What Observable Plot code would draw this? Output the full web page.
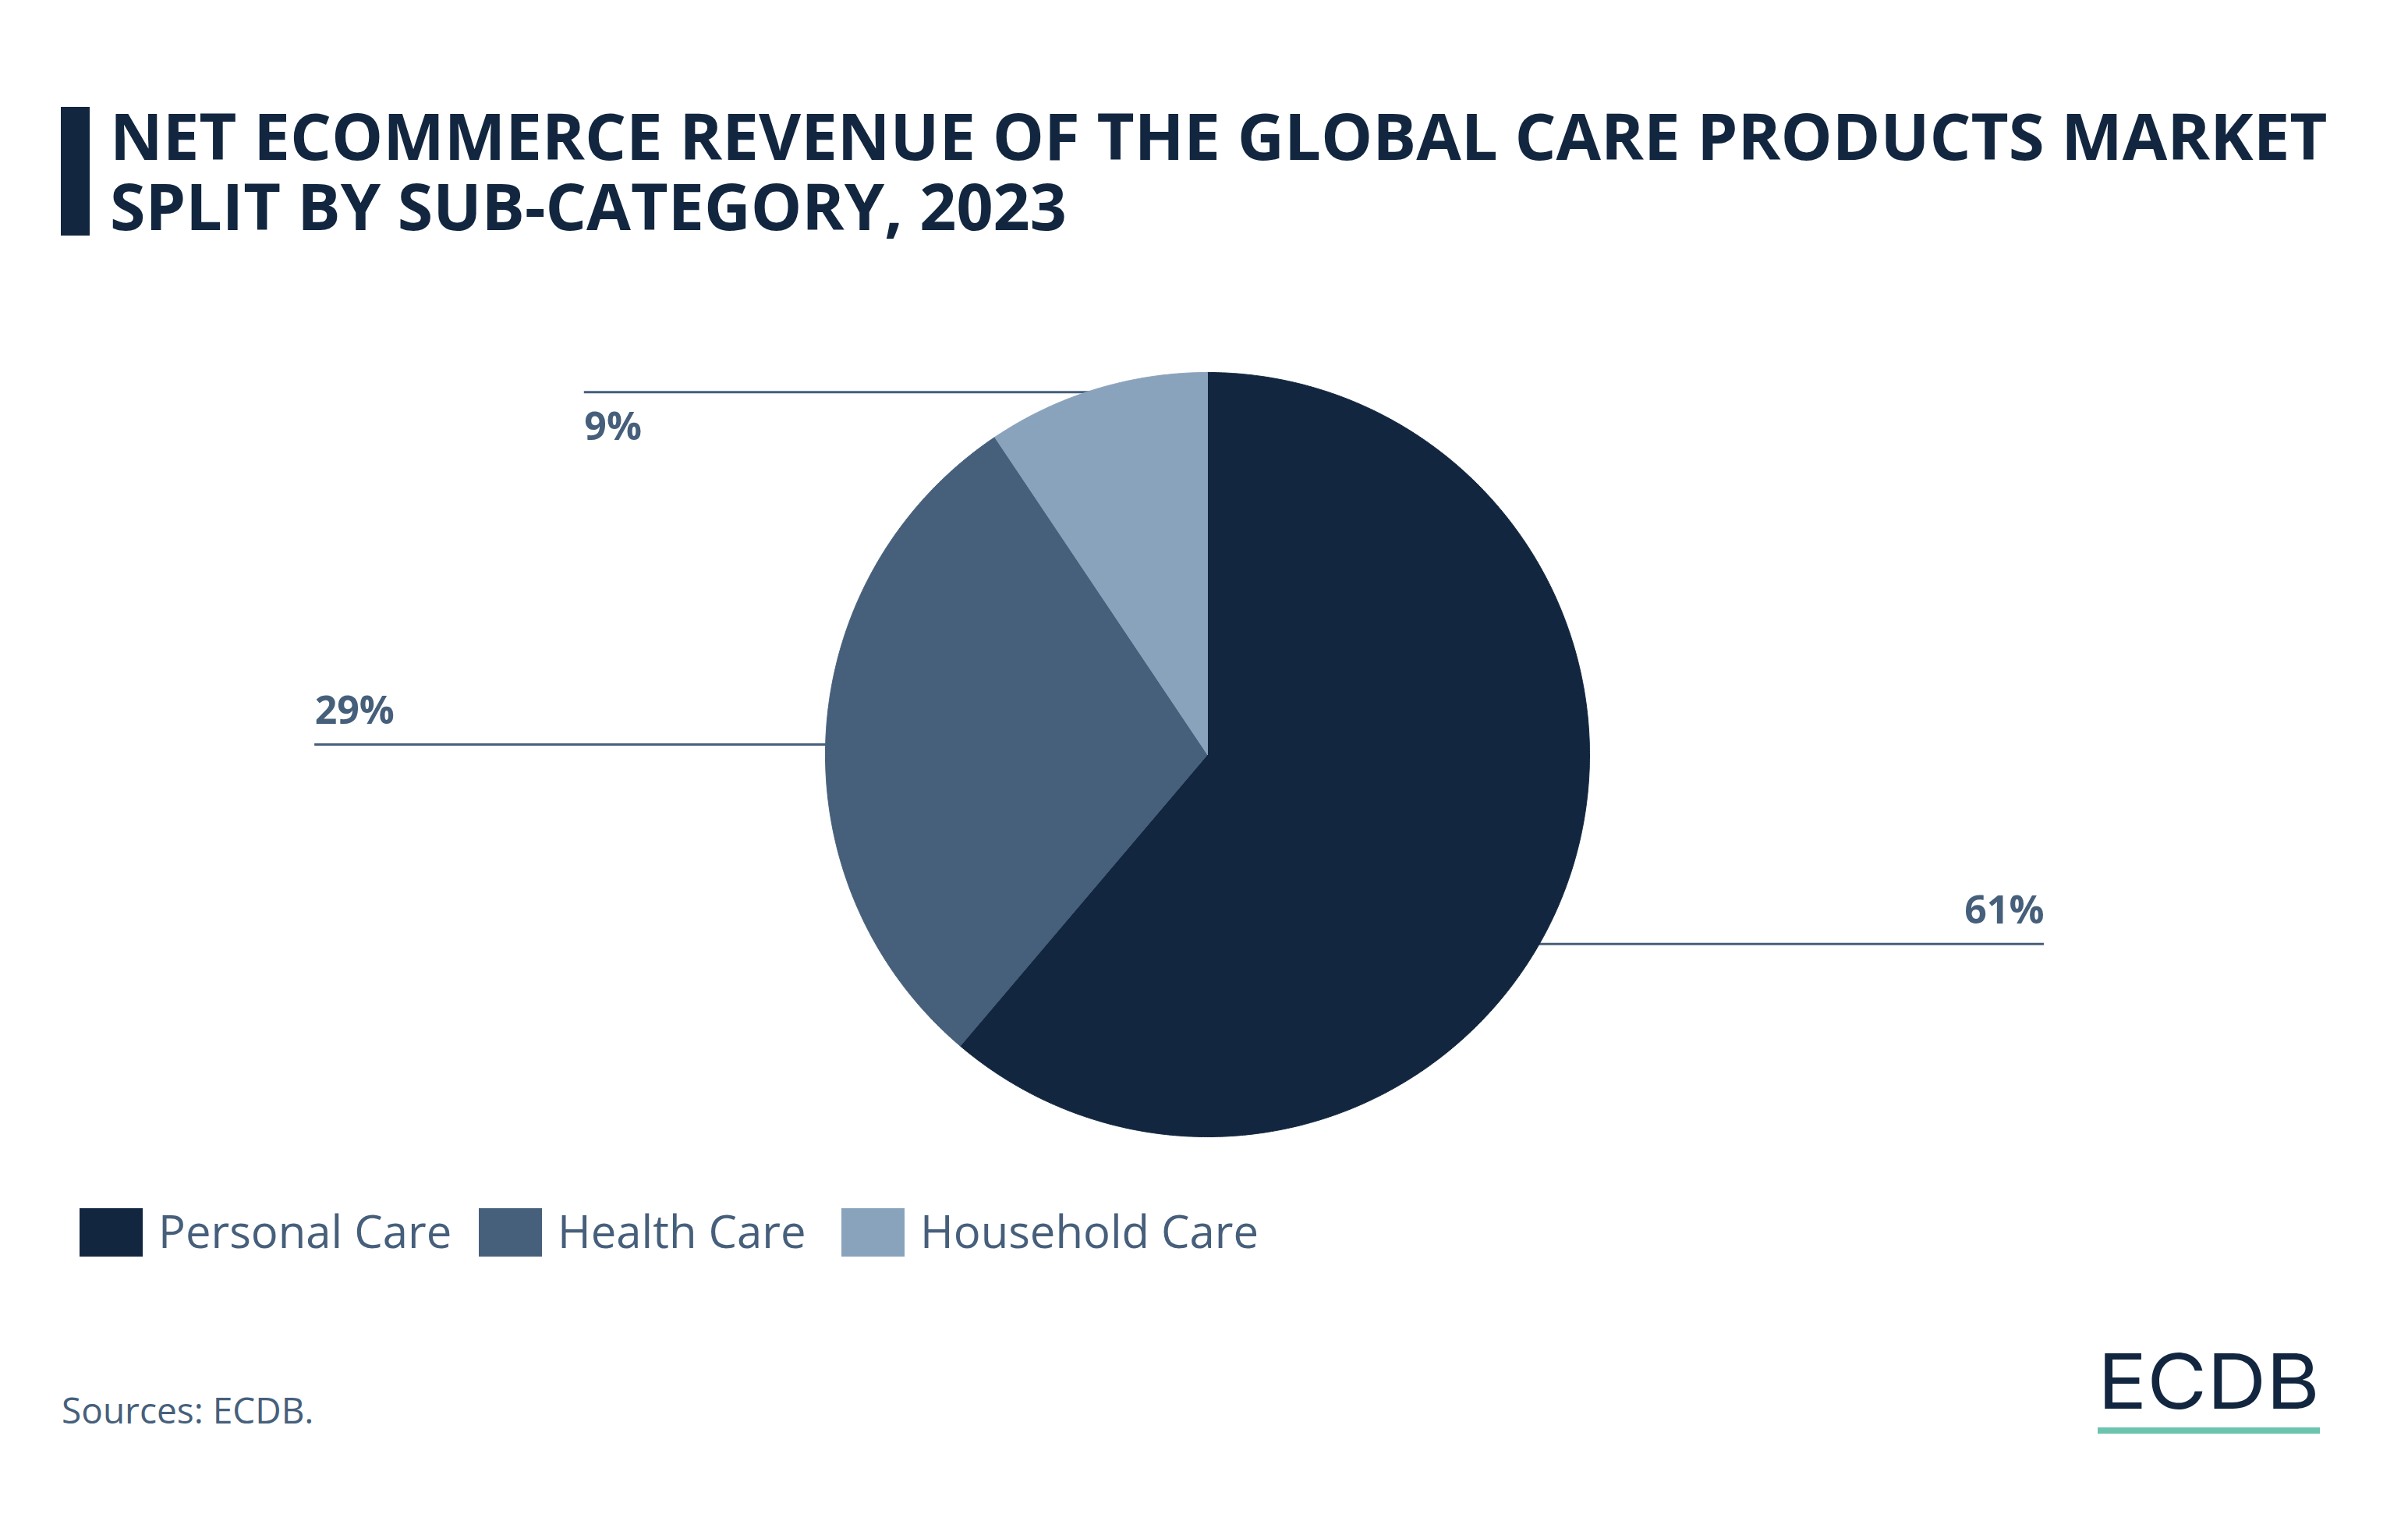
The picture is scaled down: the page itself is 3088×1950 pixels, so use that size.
<!DOCTYPE html>
<html>
<head>
<meta charset="utf-8">
<script src="https://cdn.jsdelivr.net/npm/d3@7"></script>
<script src="https://cdn.jsdelivr.net/npm/@observablehq/plot@0.6"></script>
<style>
  html, body { margin: 0; padding: 0; background: #ffffff; }
  #page { position: relative; width: 3088px; height: 1950px; overflow: hidden; font-family: "Open Sans", sans-serif; background: #ffffff; }
  #bar { position: absolute; left: 78px; top: 137px; width: 37px; height: 165px; background: #12263f; }
  .tline { position: absolute; left: 141px; margin: 0; font-size: 83.3px; line-height: 90px; height: 90px; font-weight: 700; color: #12263f; white-space: nowrap; }
  #chart { position: absolute; left: 0; top: 400px; }
  #legend { position: absolute; left: 0; top: 1549px; width: 3088px; height: 62px; }
  .item { position: absolute; top: 0; display: flex; align-items: center; height: 62px; }
  .swatch { width: 81px; height: 62px; margin-right: 20px; }
  .lab { position: relative; top: -2px; font-size: 58px; line-height: 58px; color: #465f7b; white-space: nowrap; }
  #source { position: absolute; left: 79px; top: 1784px; font-size: 46px; line-height: 46px; color: #465f7b; white-space: nowrap; }
  #logo { position: absolute; left: 2670px; top: 1700px; }
</style>
</head>
<body>
<div id="page">
  <div id="bar"></div>
  <div class="tline" style="top:128px">NET ECOMMERCE REVENUE OF THE GLOBAL CARE PRODUCTS MARKET</div>
  <div class="tline" style="top:218px; font-size:82.5px">SPLIT BY SUB-CATEGORY, 2023</div>
  <div id="chart"></div>
  <div id="legend"></div>
  <div id="source">Sources: ECDB.</div>
  <svg id="logo" width="320" height="160">
    <text x="20" y="106" font-family="Inter, sans-serif" font-size="98" font-weight="400" fill="#12263f" textLength="285" lengthAdjust="spacingAndGlyphs">ECDB</text>
    <rect x="20" y="130" width="285" height="8" fill="#6cc4ae"></rect>
  </svg>
</div>
<script>
// ---- data ----
const categories = ["Personal Care", "Health Care", "Household Care"];
const shares = [61.2, 29.4, 9.4];          // % of net e-commerce revenue
const shareLabels = ["61%", "29%", "9%"];  // labels as printed

// ---- styles ----
const palette = ["#12263f", "#465f7b", "#8aa3bd"];
const labelColor = "#465f7b";
// label placement: offsets (in radius units) from the slice's mid-angle rim point
const labelLayout = [
  {dx: 1.251, dy: 0.151, anchor: "end", textDy: -26},
  {dx: -1.338, dy: 0.030, anchor: "start", textDy: -27},
  {dx: -1.340, dy: 0.008, anchor: "start", textDy: 61}
];
const legendLeft = [102, 614, 1079];

// ---- geometry (page pixels) ----
const W = 3088, H = 1100;
const cx = 1548, cy = 567, r = 490;

const rows = categories.map((c, i) => ({category: c, share: shares[i], label: shareLabels[i]}));
const arcs = d3.pie().sort(null).value(d => d.share).startAngle(0).endAngle(2 * Math.PI)(rows);

// polygon points for each slice (angle 0 at 12 o'clock, clockwise)
const slicePts = [];
for (const a of arcs) {
  const c = a.data.category;
  slicePts.push({category: c, x: 0, y: 0});
  const n = Math.max(2, Math.ceil((a.endAngle - a.startAngle) / (Math.PI / 720)));
  for (let k = 0; k <= n; k++) {
    const t = a.startAngle + (a.endAngle - a.startAngle) * k / n;
    slicePts.push({category: c, x: Math.sin(t), y: -Math.cos(t)});
  }
  slicePts.push({category: c, x: 0, y: 0});
}

const labelRows = arcs.map((a, i) => {
  const mid = (a.startAngle + a.endAngle) / 2;
  const L = labelLayout[i];
  return {
    category: a.data.category,
    label: a.data.label,
    x: Math.sin(mid) + L.dx,
    y: -Math.cos(mid) + L.dy,
    anchor: L.anchor,
    textDy: L.textDy
  };
});

const marks = [];
// leader lines (drawn below the pie, running in to the centre)
marks.push(Plot.ruleY(labelRows, {y: "y", x1: "x", x2: () => 0, stroke: labelColor, strokeWidth: 3}));
// pie slices
marks.push(Plot.line(slicePts, {x: "x", y: "y", z: "category", fill: "category", stroke: "category", strokeWidth: 1, curve: "linear"}));
// labels
for (const d of labelRows) {
  marks.push(Plot.text([d], {
    x: "x", y: "y", text: "label",
    textAnchor: d.anchor, lineAnchor: "bottom", dy: d.textDy,
    fontSize: 50, fontWeight: 700, fontFamily: "Open Sans", fill: labelColor
  }));
}

const chart = Plot.plot({
  width: W, height: H,
  margin: 0,
  style: {background: "transparent", fontFamily: "Open Sans"},
  x: {domain: [-1, 1], range: [cx - r, cx + r], axis: null},
  y: {domain: [-1, 1], range: [cy - r, cy + r], axis: null},
  color: {domain: categories, range: palette},
  marks
});
document.getElementById("chart").appendChild(chart);

// legend
const legend = document.getElementById("legend");
categories.forEach((c, i) => {
  const item = document.createElement("div");
  item.className = "item";
  item.style.left = legendLeft[i] + "px";
  const sw = document.createElement("div");
  sw.className = "swatch";
  sw.style.background = palette[i];
  const lb = document.createElement("div");
  lb.className = "lab";
  lb.textContent = c;
  item.appendChild(sw);
  item.appendChild(lb);
  legend.appendChild(item);
});
</script>
</body>
</html>
